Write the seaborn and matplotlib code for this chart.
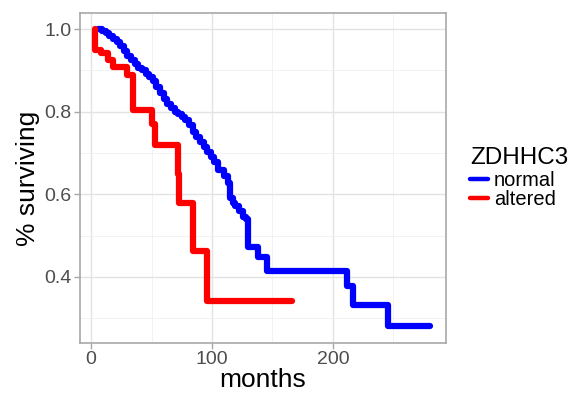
import pandas as pd
import matplotlib
matplotlib.use("Agg")
import matplotlib.pyplot as plt
import seaborn as sns
from matplotlib.ticker import MultipleLocator

# survival curve, normal group (months, fraction surviving), drawn as steps
normal_months = [6, 9, 12, 15, 18, 21, 24, 27, 30, 33,
                 36, 39, 42, 45, 48, 51, 54, 57, 60, 63,
                 66, 69, 72, 75, 78, 81, 84, 87, 90, 93,
                 96, 99, 102, 105, 110, 113, 115, 117, 119, 122,
                 125.6, 128, 129.7, 138, 145.5, 211.5, 216.5, 245.5, 280]
normal_surv = [1.0, 0.995, 0.99, 0.983, 0.975, 0.968, 0.96, 0.948, 0.935, 0.925,
               0.915, 0.907, 0.9, 0.892, 0.885, 0.875, 0.86, 0.845, 0.83, 0.818,
               0.808, 0.8, 0.795, 0.788, 0.78, 0.768, 0.752, 0.738, 0.726, 0.715,
               0.703, 0.69, 0.678, 0.66, 0.645, 0.628, 0.59, 0.58, 0.572, 0.56,
               0.546, 0.539, 0.472, 0.449, 0.414, 0.378, 0.333, 0.28, 0.28]

# altered group
altered_months = [3, 3.5, 8, 14, 18, 30, 35, 50.5, 53, 72, 73, 84.5, 96, 166]
altered_surv = [1.0, 0.95, 0.942, 0.926, 0.908, 0.89, 0.805, 0.77, 0.72, 0.648,
                0.58, 0.463, 0.342, 0.342]

groups = ["normal", "altered"]
colors = {"normal": "#0000ff", "altered": "#ff0000"}

df = pd.concat([
    pd.DataFrame({"months": normal_months, "surv": normal_surv, "ZDHHC3": "normal"}),
    pd.DataFrame({"months": altered_months, "surv": altered_surv, "ZDHHC3": "altered"}),
])

sns.set_theme(style="white")
plt.rcParams["font.family"] = ["Liberation Sans", "DejaVu Sans"]

fig = plt.figure(figsize=(5.85, 3.96), dpi=100)
ax = fig.add_axes([0.137, 0.134, 0.625, 0.833])

sns.lineplot(data=df, x="months", y="surv", hue="ZDHHC3", hue_order=groups,
             palette=colors, drawstyle="steps-post", linewidth=4.5,
             estimator=None, sort=False, ax=ax)

ax.set_xlim(-9.1, 293.4)
ax.set_ylim(0.240, 1.039)
ax.xaxis.set_major_locator(MultipleLocator(100))
ax.xaxis.set_minor_locator(MultipleLocator(50))
ax.yaxis.set_major_locator(MultipleLocator(0.2))
ax.yaxis.set_minor_locator(MultipleLocator(0.1))
ax.grid(which="major", color="#e3e3e3", linewidth=1.0)
ax.grid(which="minor", color="#f0f0f0", linewidth=0.6)
ax.set_axisbelow(True)
for s in ax.spines.values():
    s.set_color("#a8a8a8")
    s.set_linewidth(1.2)
ax.tick_params(which="major", length=4, width=1, color="#a8a8a8",
               labelsize=14, labelcolor="#4d4d4d", bottom=True, left=True, pad=2)
ax.tick_params(which="minor", length=0)
ax.set_xlabel("months", fontsize=19, color="black", labelpad=0)
ax.set_ylabel("% surviving", fontsize=19, color="black", labelpad=3)

leg = ax.legend(title="ZDHHC3", loc="center left", bbox_to_anchor=(1.0, 0.5),
                frameon=False, fontsize=14.5, title_fontsize=17.5,
                handlelength=0.9, handletextpad=0.3, labelspacing=0.0,
                borderaxespad=0.8)
leg._legend_box.align = "left"
leg._legend_box.sep = 1
leg.get_title().set_color("black")
for t in leg.get_texts():
    t.set_color("black")
for h in leg.get_lines():
    h.set_linewidth(3.2)

fig.savefig("out.png", dpi=100)
